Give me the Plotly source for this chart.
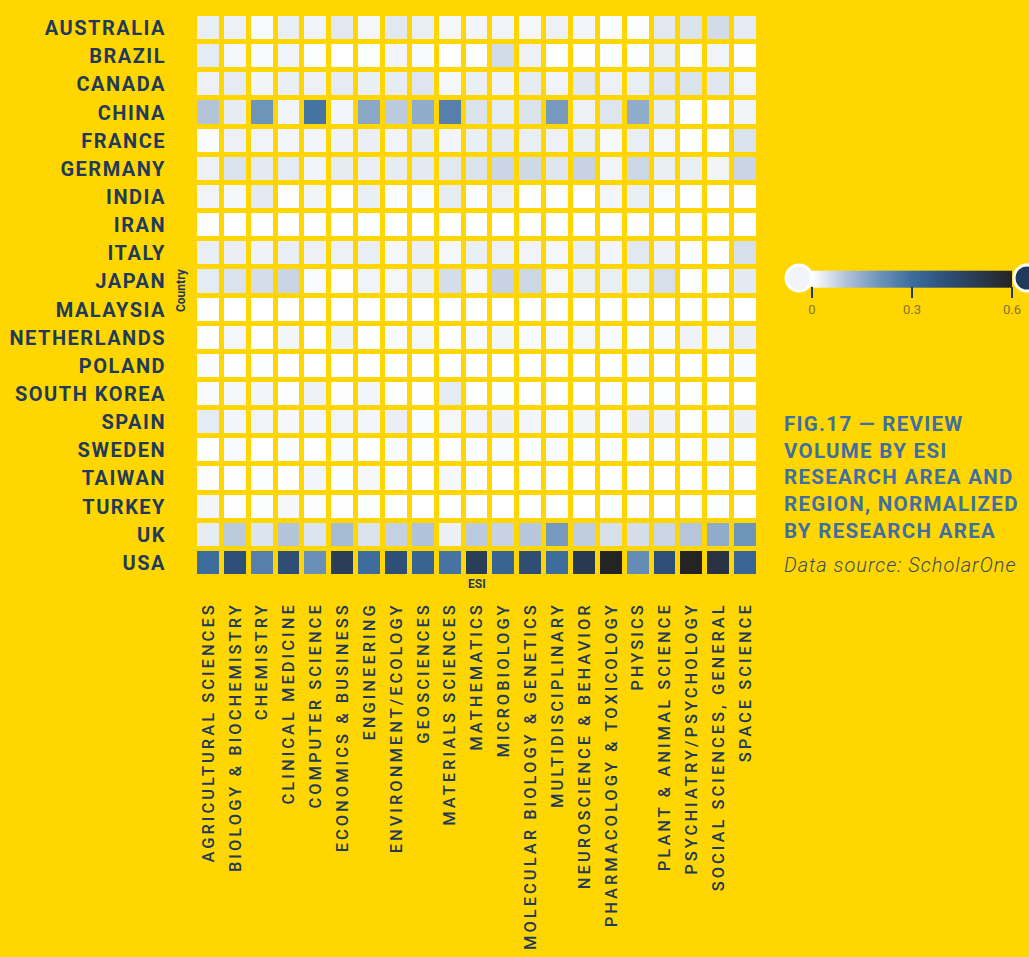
import plotly.graph_objects as go

countries = ["AUSTRALIA", "BRAZIL", "CANADA", "CHINA", "FRANCE", "GERMANY", "INDIA", "IRAN",
             "ITALY", "JAPAN", "MALAYSIA", "NETHERLANDS", "POLAND", "SOUTH KOREA", "SPAIN",
             "SWEDEN", "TAIWAN", "TURKEY", "UK", "USA"]

areas = ["AGRICULTURAL SCIENCES", "BIOLOGY & BIOCHEMISTRY", "CHEMISTRY", "CLINICAL MEDICINE",
         "COMPUTER SCIENCE", "ECONOMICS & BUSINESS", "ENGINEERING", "ENVIRONMENT/ECOLOGY",
         "GEOSCIENCES", "MATERIALS SCIENCES", "MATHEMATICS", "MICROBIOLOGY",
         "MOLECULAR BIOLOGY & GENETICS", "MULTIDISCIPLINARY", "NEUROSCIENCE & BEHAVIOR",
         "PHARMACOLOGY & TOXICOLOGY", "PHYSICS", "PLANT & ANIMAL SCIENCE",
         "PSYCHIATRY/PSYCHOLOGY", "SOCIAL SCIENCES, GENERAL", "SPACE SCIENCE"]

australia = [0.03, 0.025, 0.01, 0.03, 0.02, 0.04, 0.015, 0.04, 0.03, 0.015, 0.017, 0.02, 0.015, 0.025, 0.017, 0.005, 0.006, 0.04, 0.05, 0.06, 0.035]
brazil = [0.035, 0.015, 0.008, 0.02, 0.004, 0.0, 0.004, 0.017, 0.008, 0.0, 0.003, 0.06, 0.025, 0.0, 0.002, 0.004, 0.006, 0.03, 0.003, 0.02, 0.002]
canada = [0.025, 0.035, 0.018, 0.028, 0.025, 0.035, 0.028, 0.033, 0.045, 0.015, 0.028, 0.022, 0.032, 0.02, 0.042, 0.025, 0.03, 0.045, 0.05, 0.042, 0.02]
china = [0.1, 0.032, 0.2, 0.02, 0.28, 0.017, 0.16, 0.09, 0.15, 0.25, 0.05, 0.035, 0.05, 0.19, 0.025, 0.045, 0.15, 0.032, 0.0, 0.003, 0.018]
france = [0.007, 0.025, 0.02, 0.017, 0.017, 0.022, 0.027, 0.02, 0.032, 0.017, 0.028, 0.036, 0.03, 0.025, 0.03, 0.012, 0.03, 0.015, 0.002, 0.001, 0.05]
germany = [0.025, 0.05, 0.036, 0.035, 0.02, 0.032, 0.027, 0.032, 0.036, 0.04, 0.048, 0.07, 0.065, 0.043, 0.075, 0.02, 0.068, 0.03, 0.028, 0.018, 0.072]
india = [0.02, 0.014, 0.036, 0.003, 0.018, 0.001, 0.028, 0.006, 0.007, 0.033, 0.005, 0.025, 0.003, 0.003, 0.0, 0.017, 0.028, 0.007, 0.0, 0.0, 0.001]
iran = [0.003, 0.0, 0.001, 0.0, 0.001, 0.0, 0.006, 0.0, 0.0, 0.0, 0.0, 0.0, 0.0, 0.0, 0.0, 0.0, 0.003, 0.0, 0.0, 0.0, 0.0]
italy = [0.03, 0.027, 0.022, 0.03, 0.025, 0.025, 0.03, 0.015, 0.027, 0.015, 0.028, 0.025, 0.02, 0.015, 0.03, 0.017, 0.04, 0.023, 0.005, 0.004, 0.055]
japan = [0.035, 0.05, 0.058, 0.072, 0.007, 0.002, 0.02, 0.015, 0.028, 0.058, 0.013, 0.075, 0.068, 0.015, 0.03, 0.03, 0.028, 0.055, 0.003, 0.004, 0.036]
malaysia = [0.001, 0.0, 0.0, 0.0, 0.0, 0.0, 0.0, 0.0, 0.0, 0.0, 0.0, 0.0, 0.0, 0.0, 0.0, 0.0, 0.0, 0.0, 0.0, 0.0, 0.0]
netherlands = [0.001, 0.015, 0.0, 0.016, 0.0, 0.022, 0.001, 0.008, 0.015, 0.001, 0.008, 0.016, 0.008, 0.008, 0.015, 0.008, 0.004, 0.008, 0.022, 0.015, 0.027]
poland = [0.007, 0.001, 0.005, 0.0, 0.0, 0.0, 0.0, 0.0, 0.001, 0.0, 0.0, 0.0, 0.0, 0.0, 0.0, 0.0, 0.007, 0.0, 0.0, 0.0, 0.008]
south_korea = [0.008, 0.015, 0.017, 0.006, 0.025, 0.003, 0.017, 0.003, 0.001, 0.035, 0.0, 0.004, 0.0, 0.0, 0.0, 0.006, 0.004, 0.006, 0.001, 0.0, 0.0]
spain = [0.035, 0.017, 0.02, 0.014, 0.017, 0.02, 0.017, 0.027, 0.007, 0.015, 0.02, 0.026, 0.017, 0.008, 0.018, 0.005, 0.026, 0.022, 0.002, 0.007, 0.026]
sweden = [0.0, 0.008, 0.0, 0.007, 0.001, 0.008, 0.0, 0.008, 0.005, 0.0, 0.005, 0.007, 0.005, 0.008, 0.005, 0.005, 0.0, 0.005, 0.002, 0.008, 0.005]
taiwan = [0.003, 0.001, 0.005, 0.0, 0.017, 0.004, 0.014, 0.003, 0.0, 0.014, 0.004, 0.0, 0.0, 0.0, 0.0, 0.0, 0.0, 0.0, 0.0, 0.005, 0.0]
turkey = [0.016, 0.001, 0.004, 0.014, 0.003, 0.001, 0.004, 0.0, 0.0, 0.0, 0.0, 0.0, 0.0, 0.0, 0.0, 0.004, 0.003, 0.0, 0.0, 0.004, 0.0]
uk = [0.032, 0.09, 0.047, 0.1, 0.047, 0.12, 0.05, 0.078, 0.105, 0.026, 0.09, 0.075, 0.095, 0.19, 0.085, 0.055, 0.058, 0.07, 0.098, 0.15, 0.2]
usa = [0.3, 0.4, 0.25, 0.41, 0.21, 0.48, 0.3, 0.4, 0.33, 0.28, 0.48, 0.33, 0.41, 0.3, 0.5, 0.6, 0.22, 0.4, 0.6, 0.53, 0.32]

z = [australia, brazil, canada, china, france, germany, india, iran, italy, japan, malaysia,
     netherlands, poland, south_korea, spain, sweden, taiwan, turkey, uk, usa]

legend_ticks = [0, 0.3, 0.6]

BG = "#FFD600"
NAVY = "#1f3a5a"
TITLE_BLUE = "#3f6ea3"

W, H = 1029, 957
L, R, T, B = 195, 270, 14, 380
PW, PH = W - L - R, H - T - B


def px(x):
    return (x - L) / PW


def py(y):
    return (H - B - y) / PH


colorscale = [
    [0.0, "#ffffff"],
    [0.05 / 0.6, "#dae2ec"],
    [0.1 / 0.6, "#b3c4d9"],
    [0.2 / 0.6, "#6f94ba"],
    [0.3 / 0.6, "#3c6c9c"],
    [0.4 / 0.6, "#2e5078"],
    [0.5 / 0.6, "#293a50"],
    [1.0, "#242424"],
]

fig = go.Figure(go.Heatmap(
    z=z, x=areas, y=countries,
    zmin=0, zmax=0.6,
    colorscale=colorscale,
    xgap=5, ygap=5,
    hoverinfo="skip",
    colorbar=dict(
        orientation="h",
        xref="paper", yref="paper",
        x=px(812), xanchor="left",
        y=py(294), yanchor="middle",
        len=200, lenmode="pixels",
        thickness=17, thicknessmode="pixels",
        outlinewidth=0, xpad=0, ypad=0,
        tickvals=legend_ticks, ticktext=[str(v) for v in legend_ticks],
        ticks="outside", ticklen=11, tickwidth=1.5, tickcolor=NAVY,
        tickfont=dict(family="Roboto", size=13, color="#857536"),
    ),
))

fig.update_layout(
    width=W, height=H,
    margin=dict(l=L, r=R, t=T, b=B, autoexpand=False),
    paper_bgcolor=BG, plot_bgcolor=BG,
    font=dict(family="Roboto", color=NAVY),
    xaxis=dict(
        side="bottom", tickangle=-90, showgrid=False, zeroline=False, ticks="",
        tickfont=dict(family="Roboto", size=16.5, color=NAVY, weight=500),
        ticklabelstandoff=21, automargin=False,
    ),
    yaxis=dict(
        autorange="reversed", showgrid=False, zeroline=False, ticks="",
        tickfont=dict(family="Roboto", size=20, color=NAVY, weight=700),
        ticklabelstandoff=28, automargin=False,
    ),
    shapes=[
        dict(type="circle", xref="paper", yref="paper",
             x0=px(786), x1=px(812), y0=py(291), y1=py(265),
             fillcolor="#f2f4f9", line=dict(color="white", width=3)),
        dict(type="circle", xref="paper", yref="paper",
             x0=px(1014), x1=px(1040), y0=py(291), y1=py(265),
             fillcolor="#1f3a5a", line=dict(color="white", width=3)),
    ],
    annotations=[
        dict(text="<b>Country</b>", xref="paper", yref="paper", x=px(181), y=py(290),
             textangle=-90, showarrow=False, font=dict(size=12, color=NAVY),
             xanchor="center", yanchor="middle"),
        dict(text="<b>ESI</b>", xref="paper", yref="paper", x=px(477), y=py(584),
             showarrow=False, font=dict(size=12, color=NAVY),
             xanchor="center", yanchor="middle"),
        dict(text="FIG.17 — REVIEW<br>VOLUME BY ESI<br>RESEARCH AREA AND<br>REGION, NORMALIZED<br>BY RESEARCH AREA",
             xref="paper", yref="paper", x=px(782), y=py(410), xanchor="left", yanchor="top",
             align="left", showarrow=False, name="figtitle",
             font=dict(family="Roboto", size=20.5, color=TITLE_BLUE, weight=700)),
        dict(text="Data source: ScholarOne", xref="paper", yref="paper", x=px(782), y=py(565),
             xanchor="left", yanchor="middle", align="left", showarrow=False,
             font=dict(family="Roboto", size=20, color="#3b4a5c", style="italic", weight=300)),
    ],
)

post = """
document.body.style.margin = '0';
document.body.style.padding = '0';
document.body.style.overflow = 'hidden';
document.body.style.background = '#FFD600';
var gd = document.getElementById('{plot_id}');
function ls(){
  gd.querySelectorAll('.xtick text').forEach(function(t){ t.style.letterSpacing = '3.0px'; });
  gd.querySelectorAll('.ytick text').forEach(function(t){ t.style.letterSpacing = '1.5px'; });
  gd.querySelectorAll('.annotation-text').forEach(function(t){
    var s = t.textContent;
    if (s.indexOf('FIG.17') === 0) { t.style.letterSpacing = '1.3px'; }
    if (s.indexOf('Data source') === 0) { t.style.letterSpacing = '1.0px'; }
  });
}
ls(); setTimeout(ls, 0); gd.on('plotly_afterplot', ls);
"""

fig.write_html("out.html", post_script=post, config={"displayModeBar": False})
